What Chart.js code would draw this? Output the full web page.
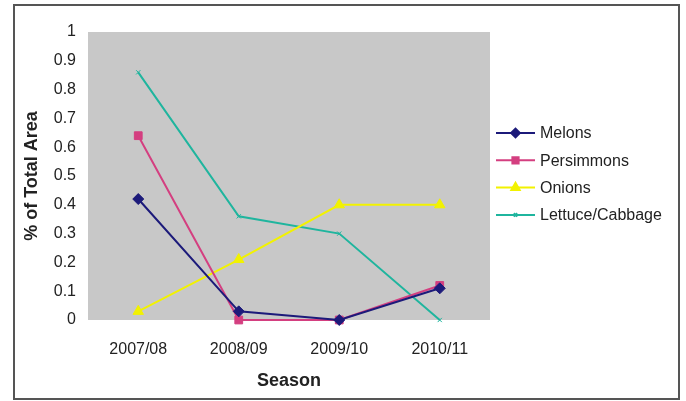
<!DOCTYPE html>
<html>
<head>
<meta charset="utf-8">
<script src="https://cdn.jsdelivr.net/npm/chart.js@4/dist/chart.umd.min.js"></script>
<style>
  html, body { margin: 0; padding: 0; background: #ffffff; }
  #wrap { width: 686px; height: 401px; position: relative; }
</style>
</head>
<body>
<div id="wrap"><canvas id="c" width="686" height="401"></canvas></div>
<script>
// Share of total planted area by crop and season
const seasons = ['2007/08', '2008/09', '2009/10', '2010/11'];
const melons = [0.42, 0.03, 0.00, 0.11];
const persimmons = [0.64, 0.00, 0.00, 0.12];
const onions = [0.03, 0.21, 0.40, 0.40];
const lettuceCabbage = [0.86, 0.36, 0.30, 0.00];
const yTicks = [0, 0.1, 0.2, 0.3, 0.4, 0.5, 0.6, 0.7, 0.8, 0.9, 1];

const FONT = '"Liberation Sans", Arial, sans-serif';
const TEXT = '#222222';

// Grey plot area and the outer frame
const frame = {
  id: 'frame',
  beforeDatasetsDraw(chart) {
    const { ctx, chartArea: a } = chart;
    ctx.save();
    ctx.fillStyle = '#c8c8c8';
    ctx.fillRect(a.left, a.top, a.right - a.left, a.bottom - a.top);
    ctx.restore();
  },
  afterDraw(chart) {
    const ctx = chart.ctx;
    ctx.save();
    ctx.strokeStyle = '#555555';
    ctx.lineWidth = 2;
    ctx.strokeRect(14, 5, 665, 394);
    ctx.restore();
  }
};

// Legend on the right: line sample with marker, then label
const sideLegend = {
  id: 'sideLegend',
  afterDraw(chart) {
    const ctx = chart.ctx;
    const x0 = 496, x1 = 535, tx = 540, y0 = 133, dy = 27.3;
    ctx.save();
    chart.data.datasets.forEach((ds, i) => {
      const y = y0 + i * dy;
      ctx.strokeStyle = ds.borderColor;
      ctx.lineWidth = 2;
      ctx.beginPath();
      ctx.moveTo(x0, y);
      ctx.lineTo(x1, y);
      ctx.stroke();
      ctx.fillStyle = ds.borderColor;
      Chart.helpers.drawPoint(ctx, {
        pointStyle: ds.pointStyle,
        radius: ds.pointRadius * 0.8,
        borderWidth: 1
      }, (x0 + x1) / 2, y);
      ctx.fillStyle = TEXT;
      ctx.font = '16px ' + FONT;
      ctx.textAlign = 'left';
      ctx.textBaseline = 'middle';
      ctx.fillText(ds.label, tx, y + 1);
    });
    ctx.restore();
  }
};

function series(label, data, color, style, radius) {
  return {
    label, data,
    borderColor: color,
    backgroundColor: color,
    pointBackgroundColor: color,
    pointBorderColor: color,
    pointStyle: style,
    pointRadius: radius,
    pointBorderWidth: 1,
    borderWidth: 2,
    tension: 0,
    clip: false
  };
}

new Chart(document.getElementById('c'), {
  type: 'line',
  data: {
    labels: seasons,
    datasets: [
      series('Melons', melons, '#1c1a7a', 'rectRot', 5.5),
      series('Persimmons', persimmons, '#d43f80', 'rect', 5.5),
      series('Onions', onions, '#f2f200', 'triangle', 6),
      series('Lettuce/Cabbage', lettuceCabbage, '#1fb59e', 'crossRot', 3)
    ]
  },
  options: {
    responsive: false,
    animation: false,
    devicePixelRatio: 1,
    layout: { padding: { left: 16, right: 196, top: 32, bottom: 8 } },
    plugins: {
      legend: { display: false },
      tooltip: { enabled: false }
    },
    scales: {
      x: {
        offset: true,
        grid: { display: false, drawTicks: false },
        border: { display: false },
        ticks: { color: TEXT, font: { family: FONT, size: 16 }, padding: 20, maxRotation: 0 },
        title: {
          display: true, text: 'Season', color: TEXT,
          font: { family: FONT, size: 18, weight: 'bold' },
          padding: { top: 10, bottom: 1 }
        },
        afterFit(scale) { scale.height = 73; }
      },
      y: {
        min: 0, max: 1,
        afterBuildTicks(scale) { scale.ticks = yTicks.map(v => ({ value: v })); },
        grid: { display: false, drawTicks: false },
        border: { display: false },
        ticks: {
          color: TEXT, font: { family: FONT, size: 16 }, padding: 12,
          callback: v => String(v)
        },
        title: {
          display: true, text: '% of Total Area', color: TEXT,
          font: { family: FONT, size: 18, weight: 'bold' },
          padding: { top: 5, bottom: 0 }
        },
        afterFit(scale) { scale.width = 72; }
      }
    }
  },
  plugins: [frame, sideLegend]
});
</script>
</body>
</html>
